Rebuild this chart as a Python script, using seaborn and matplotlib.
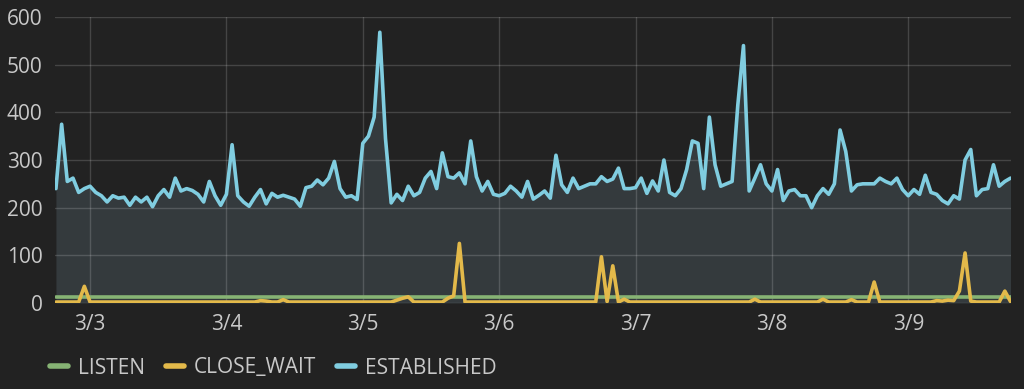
import matplotlib
matplotlib.use("Agg")
import matplotlib.pyplot as plt
from matplotlib.lines import Line2D
from matplotlib.ticker import FuncFormatter, MultipleLocator
import matplotlib.dates as mdates
import pandas as pd
import seaborn as sns

# hourly samples, 3/2 18:00 -> 3/9 18:00
start = "2019-03-02 18:00"

established = [
    240, 375, 255, 262, 232, 240, 245, 232, 225, 212, 225, 220, 222, 205, 222, 212, 222, 202, 225, 238, 222, 262, 235, 240, 236,
    228, 212, 255, 225, 205, 228, 332, 225, 212, 203, 222, 238, 208, 230, 222, 226, 222, 218, 203, 242, 245, 258, 248, 262,
    297, 240, 222, 225, 217, 335, 350, 390, 568, 345, 210, 228, 215, 245, 225, 232, 262, 276, 240, 315, 265, 262, 273, 250,
    340, 265, 235, 255, 228, 225, 230, 245, 235, 222, 255, 218, 226, 235, 220, 310, 248, 232, 262, 240, 245, 250, 250, 265,
    255, 260, 283, 240, 240, 242, 262, 230, 256, 235, 300, 232, 225, 240, 280, 340, 335, 240, 390, 290, 245, 250, 255, 415,
    540, 235, 262, 290, 250, 235, 280, 215, 235, 238, 225, 225, 200, 225, 240, 228, 250, 363, 318, 235, 248, 250, 250, 250,
    262, 255, 250, 262, 238, 225, 238, 228, 268, 232, 228, 215, 208, 225, 218, 300, 322, 225, 238, 240, 290, 245, 255, 262,
]

close_wait = [
    2, 2, 2, 2, 2, 35, 2, 2, 2, 2, 2, 2, 2, 2, 2, 2, 2, 2, 2, 2, 2, 2, 2, 2, 2,
    2, 2, 2, 2, 2, 2, 2, 2, 2, 2, 2, 5, 4, 2, 2, 7, 2, 2, 2, 2, 2, 2, 2, 2,
    2, 2, 2, 2, 2, 2, 2, 2, 2, 2, 2, 6, 10, 13, 2, 2, 2, 2, 2, 2, 10, 15, 125, 2,
    2, 2, 2, 2, 2, 2, 2, 2, 2, 2, 2, 2, 2, 2, 2, 2, 2, 2, 2, 2, 2, 2, 2, 97,
    3, 78, 2, 8, 2, 2, 2, 2, 2, 2, 2, 2, 2, 2, 2, 2, 2, 2, 2, 2, 2, 2, 2, 2,
    2, 2, 8, 2, 2, 2, 2, 2, 2, 2, 2, 2, 2, 2, 8, 2, 2, 2, 2, 7, 2, 2, 2, 44,
    2, 2, 2, 2, 2, 2, 2, 2, 2, 2, 5, 4, 6, 5, 25, 105, 4, 2, 2, 2, 2, 2, 25, 3,
]

listen = [
    13, 13, 13, 13, 13, 13, 13, 13, 13, 13, 13, 13, 13, 13, 13, 13, 13, 13, 13, 13, 13, 13, 13, 13, 13,
    13, 13, 13, 13, 13, 13, 13, 13, 13, 13, 13, 13, 13, 13, 13, 13, 13, 13, 13, 13, 13, 13, 13, 13,
    13, 13, 13, 13, 13, 13, 13, 13, 13, 13, 13, 13, 13, 13, 13, 13, 13, 13, 13, 13, 13, 13, 13, 13,
    13, 13, 13, 13, 13, 13, 13, 13, 13, 13, 13, 13, 13, 13, 13, 13, 13, 13, 13, 13, 13, 13, 13, 13,
    13, 13, 13, 13, 13, 13, 13, 13, 13, 13, 13, 13, 13, 13, 13, 13, 13, 13, 13, 13, 13, 13, 13, 13,
    13, 13, 13, 13, 13, 13, 13, 13, 13, 13, 13, 13, 13, 13, 13, 13, 13, 13, 13, 13, 13, 13, 13, 13,
    13, 13, 13, 13, 13, 13, 13, 13, 13, 13, 13, 13, 13, 13, 13, 13, 13, 13, 13, 13, 13, 13, 13, 13,
]

series_names = ["LISTEN", "CLOSE_WAIT", "ESTABLISHED"]
colors = {"LISTEN": "#86b374", "CLOSE_WAIT": "#e3b94a", "ESTABLISHED": "#80cde0"}

times = pd.date_range(start, periods=len(established), freq="h")
df = pd.concat([
    pd.DataFrame({"time": times, "value": listen, "series": "LISTEN"}),
    pd.DataFrame({"time": times, "value": close_wait, "series": "CLOSE_WAIT"}),
    pd.DataFrame({"time": times, "value": established, "series": "ESTABLISHED"}),
])

sns.set_theme(style="dark")
plt.rcParams["font.family"] = ["Open Sans", "DejaVu Sans"]

bg = "#222222"
txt = "#c8c8c8"
fs = 15

fig = plt.figure(figsize=(10.24, 3.89), dpi=100, facecolor=bg)
ax = fig.add_axes([55 / 1024, 1 - 303 / 389, (1011 - 55) / 1024, (303 - 17) / 389])
ax.set_facecolor(bg)

# area under established
ax.fill_between(times, established, color="#343a3d", lw=0, zorder=0.3)

sns.lineplot(data=df, x="time", y="value", hue="series", hue_order=series_names,
             palette=colors, linewidth=2.6, legend=False, ax=ax, zorder=2)

ax.set_ylim(0, 600)
ax.set_xlim(times[0] - pd.Timedelta(minutes=10), times[-1] + pd.Timedelta(minutes=5))
ax.yaxis.set_major_locator(MultipleLocator(100))
ax.xaxis.set_major_locator(mdates.DayLocator())
ax.xaxis.set_major_formatter(FuncFormatter(
    lambda v, pos: f"{mdates.num2date(v).month}/{mdates.num2date(v).day}"))

ax.set_axisbelow(True)
ax.grid(True, color="white", alpha=0.16, linewidth=1)
for s in ax.spines.values():
    s.set_visible(False)
ax.tick_params(colors=txt, labelsize=fs, length=0)
ax.tick_params(axis="y", pad=9)
ax.tick_params(axis="x", pad=8)
ax.set_xlabel("")
ax.set_ylabel("")

handles = [Line2D([0], [0], color=colors[n], lw=4, solid_capstyle="round") for n in series_names]
fig.legend(handles, series_names, loc="center left", bbox_to_anchor=(50 / 1024, 1 - 368 / 389),
           ncol=3, frameon=False, fontsize=fs, labelcolor=txt, handlelength=0.85,
           handletextpad=0.5, columnspacing=1.0, borderaxespad=0, borderpad=0)

fig.savefig("out.png", dpi=100, facecolor=bg)
